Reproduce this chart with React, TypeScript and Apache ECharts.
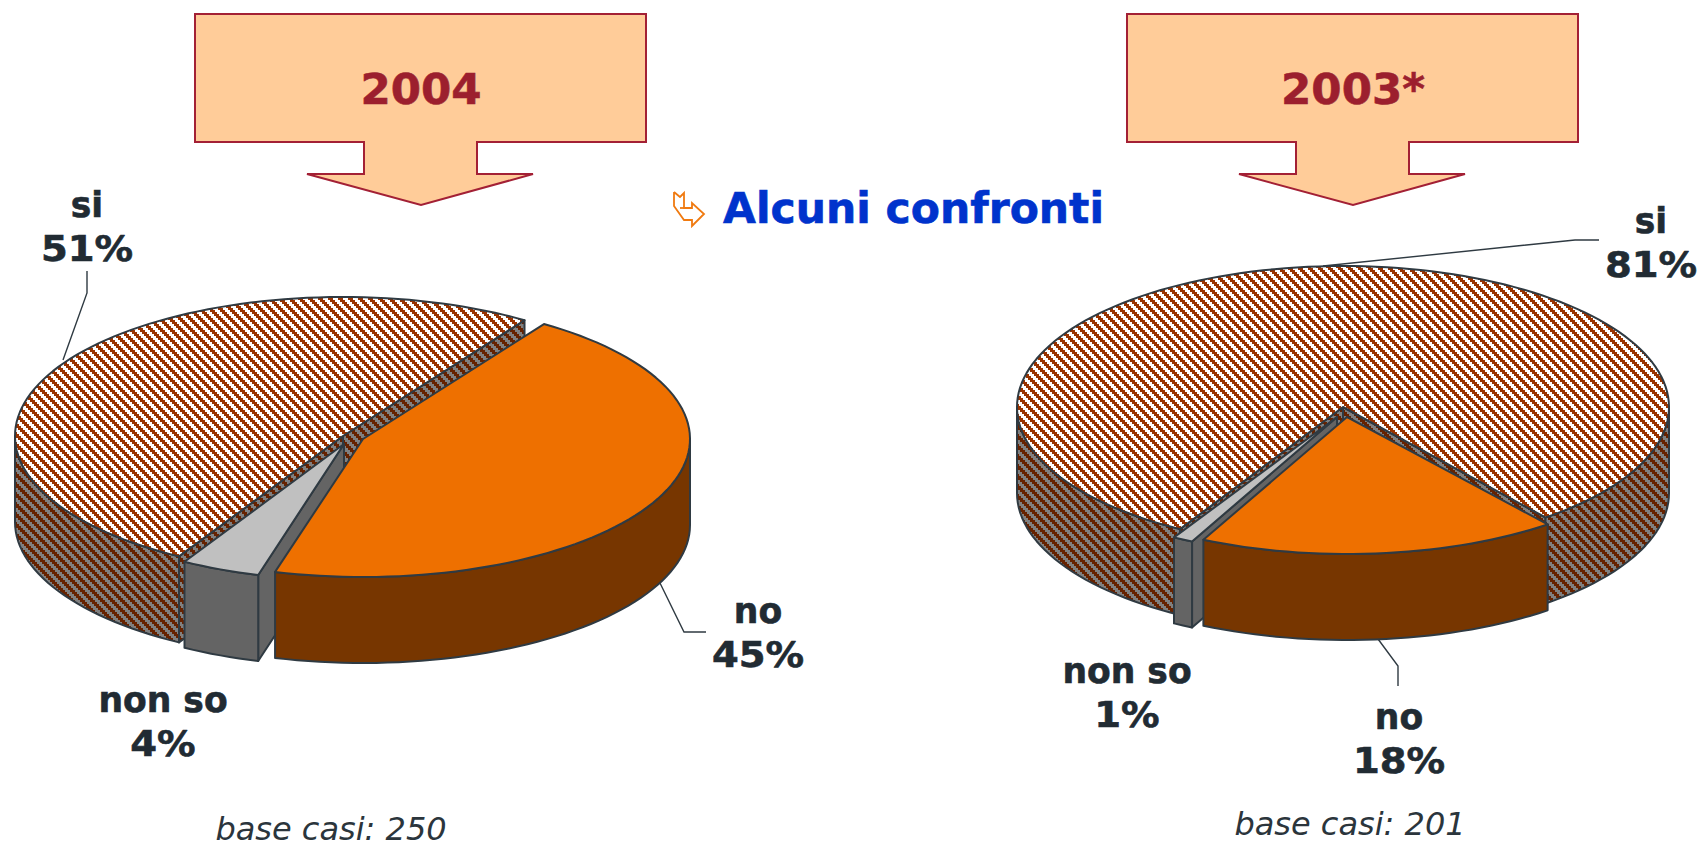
import React, { useEffect, useRef } from "react";
import * as echarts from "echarts";

const categories = ["si", "no", "non so"];
const values2004 = [51, 45, 4];
const values2003 = [81, 18, 1];
const panelTitles = ["2004", "2003*"];
const baseNotes = ["base casi: 250", "base casi: 201"];
const heading = "Alcuni confronti";

const START_ANGLE = 210;
const DEPTH = 86;
const STROKE = "#2f3a42";
const TEXT = "#212b33";
const FONT = '"DejaVu Sans", Verdana, sans-serif';

function stripes(a: string, b: string) {
  const P = 10;
  const c = document.createElement("canvas");
  c.width = P;
  c.height = P;
  const g = c.getContext("2d")!;
  for (let y = 0; y < P; y++) {
    const step = Math.floor(y / 2) * 2;
    for (let x = 0; x < P; x++) {
      g.fillStyle = ((x - step + 2 * P) % P) < 5 ? a : b;
      g.fillRect(x, y, 1, 1);
    }
  }
  return { type: "pattern", image: c, repeat: "repeat", imageWidth: P, imageHeight: P };
}

type Geo = { cx: number; cy: number; rx: number; ry: number };
const geo2004: Geo[] = [
  { cx: 343, cy: 436, rx: 328, ry: 139 },
  { cx: 363, cy: 439, rx: 327, ry: 138 },
  { cx: 344, cy: 444, rx: 319, ry: 136 },
];
const geo2003: Geo[] = [
  { cx: 1343, cy: 407, rx: 326, ry: 141 },
  { cx: 1347, cy: 417, rx: 323, ry: 137 },
  { cx: 1337, cy: 417, rx: 326, ry: 139 },
];

function pt(g: Geo, deg: number, drop = 0): number[] {
  const r = (deg * Math.PI) / 180;
  return [g.cx + g.rx * Math.sin(r), g.cy - g.ry * Math.cos(r) + drop];
}
function arc(g: Geo, a: number, b: number, drop = 0) {
  const out: number[][] = [];
  const n = Math.max(2, Math.ceil((b - a) / 2));
  for (let i = 0; i <= n; i++) out.push(pt(g, a + ((b - a) * i) / n, drop));
  return out;
}

function pieSeries(values: number[], geos: Geo[], styles: any[]) {
  const total = values.reduce((s, v) => s + v, 0);
  const spans: number[][] = [];
  let acc = START_ANGLE;
  values.forEach((v) => {
    const end = acc + (v / total) * 360;
    spans.push([acc, end]);
    acc = end;
  });
  const drawOrder = [0, 2, 1];
  return {
    type: "custom",
    coordinateSystem: "none",
    silent: true,
    data: drawOrder.map((i) => ({ name: categories[i], value: [i, values[i]] })),
    renderItem: (_p: any, api: any) => {
      const i = api.value(0);
      const g = geos[i];
      const s = styles[i];
      const [a, b] = spans[i];
      const base = { stroke: STROKE, lineWidth: 2, lineJoin: "round" };
      const children: any[] = [];
      const apex = [g.cx, g.cy];
      const apexD = [g.cx, g.cy + DEPTH];
      const face = (t: number) => ({
        type: "polygon",
        shape: { points: [apex, pt(g, t), pt(g, t, DEPTH), apexD] },
        style: { ...base, fill: s.face },
      });
      if (Math.sin((a * Math.PI) / 180) < 0) children.push(face(a));
      if (Math.sin((b * Math.PI) / 180) > 0) children.push(face(b));
      for (let k = 0; k < 3; k++) {
        const lo = Math.max(a, 90 + 360 * k);
        const hi = Math.min(b, 270 + 360 * k);
        if (hi > lo) {
          const top = arc(g, lo, hi);
          const bottom = arc(g, lo, hi, DEPTH).reverse();
          children.push({
            type: "polygon",
            shape: { points: [...top, ...bottom] },
            style: { ...base, fill: s.wall },
          });
        }
      }
      children.push({
        type: "polygon",
        shape: { points: [apex, ...arc(g, a, b)] },
        style: { ...base, fill: s.top },
      });
      return { type: "group", children };
    },
  };
}

function banner(dx: number, title: string) {
  const p = [
    [195, 14], [646, 14], [646, 142], [477, 142], [477, 174], [533, 174],
    [421, 205], [307, 174], [364, 174], [364, 142], [195, 142],
  ].map(([x, y]) => [x + dx, y]);
  return [
    { type: "polygon", shape: { points: p }, style: { fill: "#ffcc99", stroke: "#a32035", lineWidth: 2 } },
    {
      type: "text", x: 421 + dx, y: 89,
      style: {
        text: title, font: `bold 43.5px ${FONT}`, fill: "#9c1f2e", stroke: "#9c1f2e", lineWidth: 0.6,
        align: "center", verticalAlign: "middle",
      },
    },
  ];
}

function label(x: number, y: number, cat: string, v: number) {
  const common = {
    fill: TEXT, stroke: TEXT, lineWidth: 0.6, align: "center", verticalAlign: "middle",
    font: `bold 36px ${FONT}`,
  };
  return [
    { type: "text", x, y: y - 22, scaleX: 0.96, style: { ...common, text: cat } },
    { type: "text", x, y: y + 22, scaleX: 1.07, style: { ...common, text: `${v}%` } },
  ];
}
function leader(points: number[][]) {
  return { type: "polyline", shape: { points }, style: { stroke: STROKE, lineWidth: 1.4, fill: "none" } };
}
function note(x: number, y: number, text: string) {
  return {
    type: "text", x, y,
    style: { text, font: `italic 32px ${FONT}`, fill: "#2b353c", align: "center", verticalAlign: "middle" },
  };
}

export default function App() {
  const ref = useRef<HTMLDivElement>(null);
  useEffect(() => {
    const chart = echarts.init(ref.current!, undefined, { renderer: "svg" });
    const hatchTop = stripes("#993300", "#ffffff");
    const hatchSide = stripes("#662200", "#808080");
    const styles = [
      { top: hatchTop, wall: hatchSide, face: hatchSide },
      { top: "#ee7000", wall: "#773600", face: "#773600" },
      { top: "#c0c0c0", wall: "#646464", face: "#646464" },
    ];
    chart.setOption({
      animation: false,
      backgroundColor: "#ffffff",
      series: [pieSeries(values2004, geo2004, styles), pieSeries(values2003, geo2003, styles)],
      graphic: [
        ...banner(0, panelTitles[0]),
        ...banner(932, panelTitles[1]),
        {
          type: "text", x: 723, y: 208,
          style: {
            text: heading, font: `bold 42.5px ${FONT}`, fill: "#0033cc", stroke: "#0033cc", lineWidth: 0.6,
            align: "left", verticalAlign: "middle",
          },
        },
        {
          type: "polyline",
          shape: { points: [[674, 192], [680, 197], [684, 193], [684, 208], [692, 208], [692, 203], [704, 214], [692, 226], [692, 220], [684, 220], [674, 206], [674, 192]] },
          style: { stroke: "#f07a10", lineWidth: 1.8, fill: "none" },
        },
        { type: "polyline", shape: { points: [[680, 208], [692, 208]] }, style: { stroke: "#f07a10", lineWidth: 1.8, fill: "none" } },
        leader([[63, 360], [87, 293], [87, 271]]),
        leader([[659, 581], [684, 632], [706, 632]]),
        leader([[1323, 266], [1575, 240], [1599, 240]]),
        leader([[1378, 639], [1398, 666], [1398, 686]]),
        ...label(87, 226, categories[0], values2004[0]),
        ...label(758, 632, categories[1], values2004[1]),
        ...label(163, 721, categories[2], values2004[2]),
        ...label(1651, 242, categories[0], values2003[0]),
        ...label(1399, 738, categories[1], values2003[1]),
        ...label(1127, 692, categories[2], values2003[2]),
        note(331, 829, baseNotes[0]),
        note(1350, 824, baseNotes[1]),
      ],
    });
    return () => chart.dispose();
  }, []);
  return <div ref={ref} style={{ position: "absolute", left: 0, top: 0, width: 1703, height: 843 }} />;
}
